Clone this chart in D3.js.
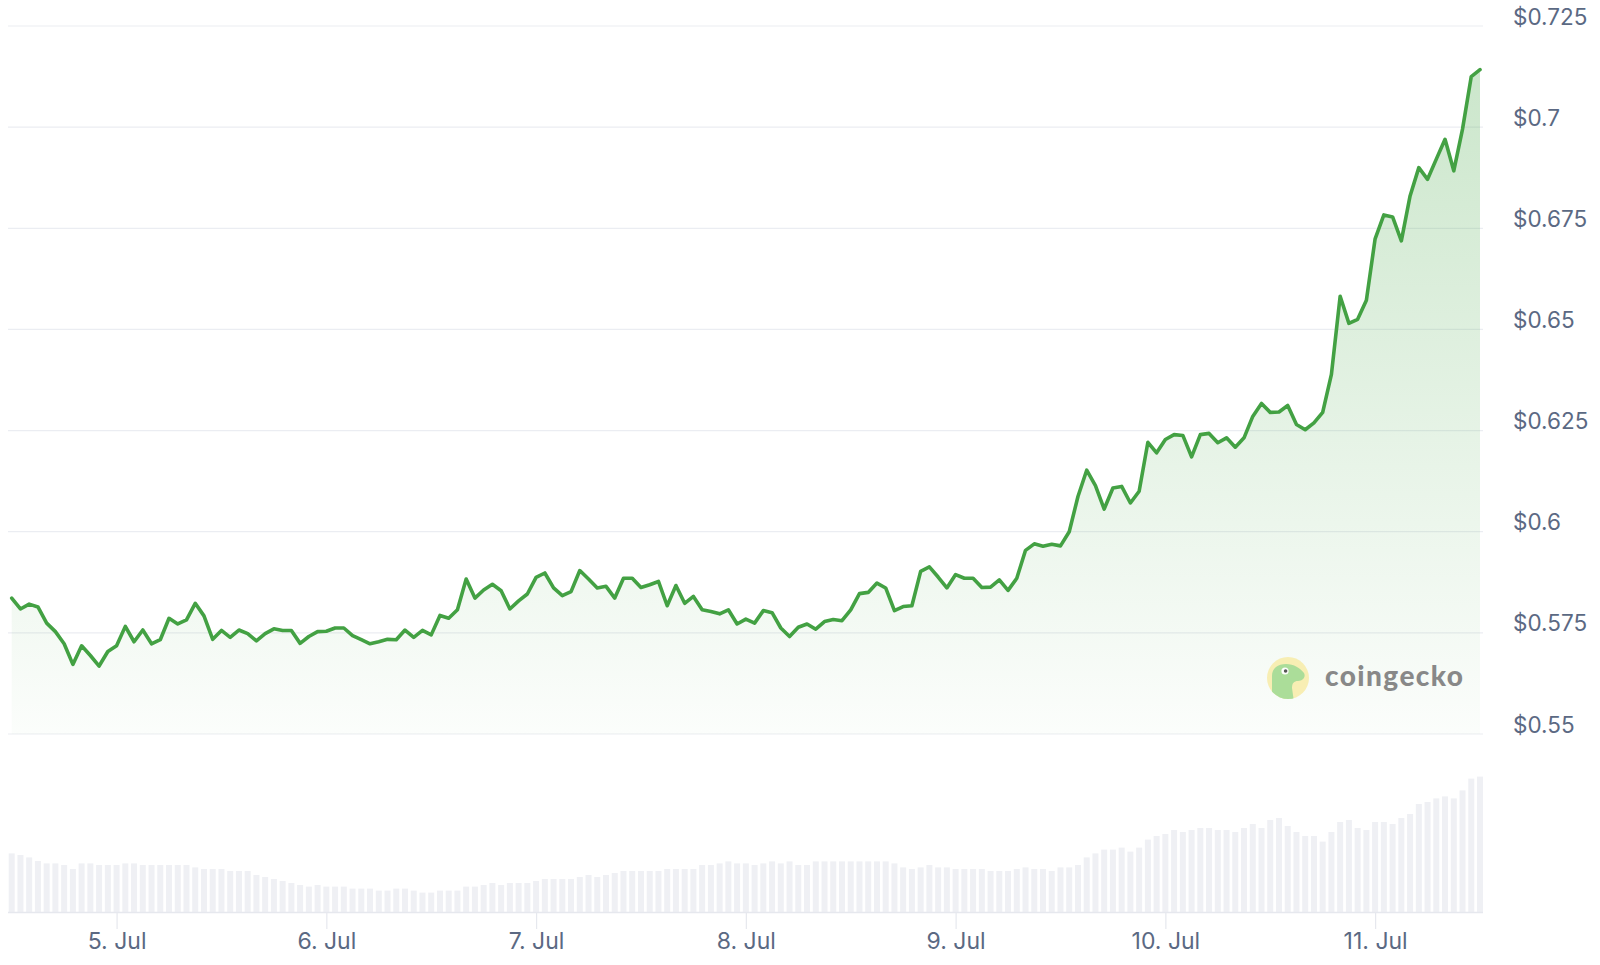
<!DOCTYPE html>
<html><head><meta charset="utf-8">
<script src="https://cdn.jsdelivr.net/npm/d3@7"></script>
<style>html,body{margin:0;padding:0;background:#fff;} svg{display:block;}</style>
</head><body><svg id="chart" width="1600" height="965"></svg>
<script>
const startTime = "2024-07-04T12:00:00Z";
const endTime = "2024-07-11T12:00:00Z";
const prices = [
0.5836,0.5809,0.5821,0.5814,0.5774,0.5753,0.5723,0.5672,0.5718,0.5694,
0.5668,0.5704,0.5718,0.5766,0.5728,0.5757,0.5723,0.5733,0.5786,0.5772,
0.5782,0.5823,0.5792,0.5734,0.5756,0.5739,0.5757,0.5748,0.5730,0.5748,
0.5760,0.5756,0.5756,0.5724,0.5741,0.5753,0.5754,0.5762,0.5762,0.5743,
0.5733,0.5723,0.5728,0.5734,0.5733,0.5757,0.5739,0.5756,0.5745,0.5793,
0.5786,0.5807,0.5883,0.5836,0.5856,0.5870,0.5854,0.5809,0.5829,0.5846,
0.5887,0.5898,0.5861,0.5842,0.5852,0.5904,0.5883,0.5861,0.5865,0.5836,
0.5885,0.5885,0.5862,0.5869,0.5877,0.5817,0.5867,0.5823,0.5840,0.5807,
0.5803,0.5797,0.5807,0.5772,0.5784,0.5774,0.5805,0.5800,0.5762,0.5741,
0.5764,0.5772,0.5759,0.5778,0.5783,0.5780,0.5807,0.5847,0.5850,0.5873,
0.5861,0.5805,0.5815,0.5817,0.5902,0.5913,0.5888,0.5861,0.5894,0.5885,
0.5885,0.5862,0.5863,0.5881,0.5855,0.5885,0.5954,0.5970,0.5964,0.5969,
0.5965,0.6000,0.6087,0.6152,0.6114,0.6056,0.6108,0.6112,0.6071,0.6100,
0.6221,0.6195,0.6228,0.6240,0.6238,0.6185,0.6240,0.6243,0.6220,0.6232,
0.6209,0.6232,0.6285,0.6317,0.6295,0.6296,0.6312,0.6265,0.6252,0.6269,
0.6295,0.6389,0.6582,0.6515,0.6525,0.6572,0.6724,0.6783,0.6778,0.6719,
0.6830,0.6900,0.6871,0.6921,0.6970,0.6892,0.6995,0.7125,0.7142
];
const volumes = [
29.3,28.5,27.3,25.5,24.3,24.3,23.5,21.5,24.3,24.3,
23.5,23.5,23.5,24.3,24.3,23.5,23.5,23.5,23.5,23.5,
23.5,22.3,21.5,21.5,21.5,20.5,20.5,20.5,18.5,17.5,
16.5,15.5,14.5,13.5,12.7,13.5,12.7,12.7,12.7,11.7,
11.7,11.7,10.7,10.7,11.7,11.7,10.7,9.7,9.7,10.7,
10.7,10.7,12.7,12.7,13.5,14.5,13.5,14.5,14.5,14.5,
15.5,16.5,16.5,16.5,16.5,17.5,18.5,17.5,18.5,19.5,
20.5,20.5,20.5,20.5,20.5,21.5,21.5,21.5,21.5,23.5,
23.5,24.3,25.3,24.3,24.3,23.5,24.3,25.3,24.3,25.3,
23.5,
23.5,25.3,25.3,25.3,25.3,25.3,25.3,25.3,25.3,25.3,
24.3,22.3,21.5,22.3,23.5,22.3,22.3,21.5,21.5,21.5,
21.5,20.5,20.5,20.5,21.5,22.3,21.5,21.5,20.5,22.3,
22.3,23.5,27.3,29.3,31.2,31.2,32.2,30.2,32.2,36.2,
38,39,41,40,41,42,42,41,41,40,
42,44,42,46,47,43,40,38,38,35.2,
40,45,46,42,41,45,45,44,47,49,
54,55,56.8,57.8,56.8,60.8,66.7,67.7
];
const priceTicks = [0.55,0.575,0.6,0.625,0.65,0.675,0.7,0.725];
const dayTicks = ["2024-07-05","2024-07-06","2024-07-07","2024-07-08","2024-07-09","2024-07-10","2024-07-11"];
const watermarkText = "coingecko";

const t0 = new Date(startTime);
const data = prices.map((p, i) => ({t: new Date(t0.getTime() + i*3600e3), p, v: volumes[i]}));

const svg = d3.select("#chart");
const fontFam = "Inter, 'Noto Sans', 'DejaVu Sans', sans-serif";
const textColor = "#5b6983";
const gridColor = "#ebedf2";

const x = d3.scaleUtc().domain([new Date(startTime), new Date(endTime)]).range([11.7, 1480]);
const y = d3.scaleLinear().domain([0.55, 0.725]).range([734, 26]);
const yVol = d3.scaleLinear().domain([0, 70]).range([912, 772]);

const defs = svg.append("defs");
const grad = defs.append("linearGradient").attr("id","areaGrad")
  .attr("gradientUnits","userSpaceOnUse").attr("x1",0).attr("x2",0).attr("y1",y(0.725)).attr("y2",y(0.55));
grad.append("stop").attr("offset","0").attr("stop-color","#48a848").attr("stop-opacity",0.3);
grad.append("stop").attr("offset","1").attr("stop-color","#48a848").attr("stop-opacity",0.02);

svg.append("g").selectAll("line").data(priceTicks).join("line")
  .attr("x1", 8).attr("x2", 1483)
  .attr("y1", d => y(d)).attr("y2", d => y(d))
  .attr("stroke", gridColor).attr("stroke-width", 1.2);

const yAxis = d3.axisRight(y).tickValues(priceTicks).tickSize(0).tickPadding(0)
  .tickFormat(d => "$" + (+d.toFixed(3)));
const gy = svg.append("g").attr("transform","translate(1513,0)").call(yAxis);
gy.select(".domain").remove();
gy.selectAll("text").attr("dy", 0).attr("y", -2)
  .attr("font-family", fontFam).attr("font-size", 22.5).attr("fill", textColor);

svg.append("g").selectAll("rect").data(data).join("rect")
  .attr("x", d => x(d.t) - 3).attr("width", 6)
  .attr("y", d => yVol(d.v)).attr("height", d => yVol(0) - yVol(d.v))
  .attr("fill", "#eff0f4");

const xAxis = d3.axisBottom(x).tickValues(dayTicks.map(s => new Date(s + "T00:00:00Z")))
  .tickSize(17).tickPadding(4).tickFormat(d3.utcFormat("%-d. %b"));
const gx = svg.append("g").attr("transform", `translate(0,${yVol(0)})`).call(xAxis);
gx.select(".domain").remove();
gx.selectAll(".tick line").attr("stroke", "#e6e8ee").attr("stroke-width", 1.2);
gx.selectAll("text").attr("font-family", fontFam).attr("font-size", 23).attr("fill", textColor);
svg.append("line").attr("x1", 8).attr("x2", 1483).attr("y1", yVol(0)+0.5).attr("y2", yVol(0)+0.5)
  .attr("stroke", "#e6e8ee").attr("stroke-width", 1.5);

const area = d3.area().x(d => x(d.t)).y0(y(0.55)).y1(d => y(d.p));
svg.append("path").datum(data).attr("d", area).attr("fill", "url(#areaGrad)");
const line = d3.line().x(d => x(d.t)).y(d => y(d.p));
svg.append("path").datum(data).attr("d", line).attr("fill","none")
  .attr("stroke","#43a143").attr("stroke-width",3.6).attr("stroke-linejoin","round").attr("stroke-linecap","round");

const wm = svg.append("g").attr("opacity", 0.85);
defs.append("clipPath").attr("id","logoClip").append("circle").attr("cx",1288).attr("cy",678).attr("r",21);
wm.append("circle").attr("cx",1288).attr("cy",678).attr("r",21).attr("fill","#f8eca8");
wm.append("path").attr("clip-path","url(#logoClip)")
  .attr("d","M1272,702 L1272,676 C1272,668 1278,664 1286,664 C1294,664 1300,668 1304,673 C1306,677 1303,681 1298,681 C1294,681 1292,683 1292,688 L1294,702 Z")
  .attr("fill","#9ed889");
wm.append("circle").attr("cx",1285).attr("cy",671).attr("r",3.6).attr("fill","#fff");
wm.append("circle").attr("cx",1285.6).attr("cy",671).attr("r",1.8).attr("fill","#3a3a3a");
wm.append("text").attr("x",1325).attr("y",686).text(watermarkText)
  .attr("font-family","Lato, 'Open Sans', sans-serif").attr("font-weight",900).attr("font-size",28)
  .attr("textLength",138).attr("lengthAdjust","spacing")
  .attr("fill","#757575");
</script>
</body></html>
